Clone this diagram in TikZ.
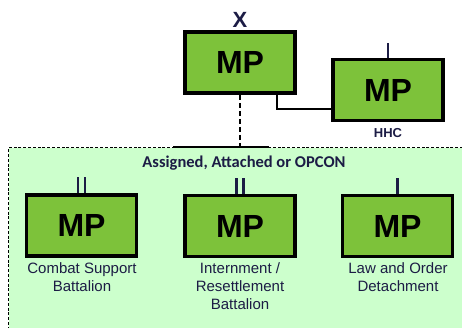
\documentclass[tikz,border=0pt]{standalone}
\usepackage{fontspec}
\setmainfont{Liberation Sans}
\newfontfamily\carl{Carlito}
\definecolor{boxgreen}{HTML}{7DC23A}
\definecolor{contgreen}{HTML}{CCFFCC}
\definecolor{navy}{HTML}{1C1C45}
\begin{document}
\begin{tikzpicture}[x=1pt,y=-1pt,
  unitbox/.style={draw=black,line width=3.5pt,fill=boxgreen,minimum width=110pt,minimum height=61pt,inner sep=0pt,
    font=\fontsize{32}{32}\selectfont\bfseries},
  unitlabel/.style={font=\fontsize{15}{18}\selectfont,text=navy,align=center,anchor=north,inner sep=0pt},
  tick/.style={draw=navy,line width=2.6pt},
  conn/.style={draw=black,line width=1.3pt}]
\useasboundingbox (0,0) rectangle (462,327);
% container
\node[draw=black,line width=1.2pt,dash pattern=on 3pt off 1.8pt,fill=contgreen,anchor=north west,minimum width=480pt,minimum height=200pt,inner sep=0pt] (cont) at (8,147) {};
\draw[conn] (173,147) -- (269,147);
\node[font=\carl\fontsize{16.5}{16.5}\selectfont\bfseries,text=navy] (title) at (244,163) {Assigned, Attached or OPCON};
% top
\node[unitbox] (top) at (240,62.5) {MP};
\node[font=\fontsize{22}{22}\selectfont\bfseries,text=navy,inner sep=0pt] (xlbl) at (240,20) {X};
% HHC
\node[unitbox] (hhc) at (388,90) {MP};
\draw[tick] (hhc.north) -- ++(0,-15);
\node[font=\fontsize{13}{13}\selectfont\bfseries,text=navy,anchor=north,inner sep=0pt] (hhclbl) at (388,128) {HHC};
% connectors
\draw[conn] ([xshift=37pt]top.south) |- ([yshift=-19pt]hhc.west);
\draw[conn,dash pattern=on 5pt off 3pt] (top.south) -- (top.south |- cont.north);
% bottom row
\node[unitbox] (b1) at (81.5,225.5) {MP};
\node[unitbox] (b2) at (240,226) {MP};
\node[unitbox] (b3) at (397.5,226) {MP};
\draw[tick] ([xshift=-3.5pt]b1.north) -- ++(0,-16);
\draw[tick] ([xshift=3.5pt]b1.north) -- ++(0,-16);
\draw[tick] ([xshift=-3.5pt]b2.north) -- ++(0,-16);
\draw[tick] ([xshift=3.5pt]b2.north) -- ++(0,-16);
\draw[tick] (b3.north) -- ++(0,-16);
\node[unitlabel] (l1) at (82,262) {Combat Support\\Battalion};
\node[unitlabel] (l2) at (240,262) {Internment /\\Resettlement\\Battalion};
\node[unitlabel] (l3) at (398,262) {Law and Order\\Detachment};
\end{tikzpicture}
\end{document}
